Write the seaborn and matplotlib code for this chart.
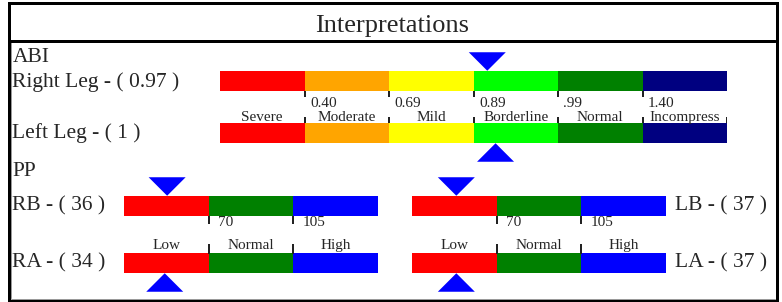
import matplotlib
matplotlib.use("Agg")
import matplotlib.pyplot as plt
import matplotlib.transforms as mtransforms
from matplotlib.path import Path
from matplotlib.patches import Rectangle
import seaborn as sns
import pandas as pd

# ---------------- data ----------------
title = "Interpretations"

abi_section = "ABI"
abi_categories = ["Severe", "Moderate", "Mild", "Borderline", "Normal", "Incompress"]
abi_colors = ["#FF0000", "#FFA500", "#FFFF00", "#00FF00", "#008000", "#000080"]
abi_tick_labels = ["0.40", "0.69", "0.89", ".99", "1.40"]
abi_legs = ["Right Leg", "Left Leg"]
abi_values = [0.97, 1]
abi_value_text = ["0.97", "1"]
abi_scale_max = 1.84

pp_section = "PP"
pp_categories = ["Low", "Normal", "High"]
pp_colors = ["#FF0000", "#008000", "#0000FF"]
pp_tick_labels = ["70", "105"]
pp_right_sites = ["RB", "RA"]
pp_right_values = [36, 34]
pp_left_sites = ["LB", "LA"]
pp_left_values = [37, 37]
pp_scale_max = 212

marker_color = "#0000FF"

# ---------------- style ----------------
sns.set_style("white")
plt.rcParams["font.family"] = ["Liberation Serif", "DejaVu Serif"]

W, H = 782, 302
fig = plt.figure(figsize=(W / 100, H / 100), dpi=100)
fig.patch.set_facecolor("white")

PX = 72 / 100  # points per pixel

# background axes in pixel coordinates (for frame and labels)
bg = fig.add_axes([0, 0, 1, 1])
bg.set_xlim(0, W)
bg.set_ylim(H, 0)
bg.axis("off")

# frame
bg.add_patch(Rectangle((8.7, 3.3), 776.5 - 8.7, 300.5 - 3.3, fill=False,
                       edgecolor="black", lw=3 * PX, zorder=5))
bg.plot([10, 775], [41, 41], color="black", lw=3 * PX, zorder=5)
bg.plot([10.5, 10.5], [42, 298], color="#999999", lw=1 * PX, zorder=4)
bg.plot([10.5, 775], [298.5, 298.5], color="#999999", lw=1 * PX, zorder=4)

bg.text(392, 32, title, fontsize=19, ha="center", va="baseline")

LABEL_FS = 15.5
bg.text(12.5, 62.5, abi_section, fontsize=LABEL_FS, va="baseline")
bg.text(12.5, 176, pp_section, fontsize=LABEL_FS, va="baseline")

# triangle markers (2:1 width:height)
down_tri = Path([(-1, 0.5), (1, 0.5), (0, -0.5), (-1, 0.5)],
                [Path.MOVETO, Path.LINETO, Path.LINETO, Path.CLOSEPOLY])
up_tri = Path([(-1, -0.5), (1, -0.5), (0, 0.5), (-1, -0.5)],
              [Path.MOVETO, Path.LINETO, Path.LINETO, Path.CLOSEPOLY])
MARKER_S = (37 * PX) ** 2


def gauge_axes(x0, x1, scale_max):
    ax = fig.add_axes([x0 / W, 0, (x1 - x0) / W, 1])
    ax.set_xlim(0, scale_max)
    ax.set_ylim(H, 0)
    ax.axis("off")
    ax.patch.set_alpha(0)
    return ax


def draw_bar(ax, scale_max, colors, y_top, height):
    n = len(colors)
    seg = scale_max / n
    df = pd.DataFrame({"left": [i * seg for i in range(n)],
                       "width": [seg] * n,
                       "color": colors})
    ax.barh(y=[y_top + height / 2] * n, width=df["width"], left=df["left"],
            height=height, color=df["color"], edgecolor="none", linewidth=0)
    return seg


def draw_marker(ax, value, y_center, path):
    dfm = pd.DataFrame({"value": [value], "y": [y_center]})
    sns.scatterplot(data=dfm, x="value", y="y", marker=path, s=MARKER_S,
                    color=marker_color, edgecolor="none", linewidth=0,
                    legend=False, ax=ax, zorder=6)
    ax.set_xlabel("")
    ax.set_ylabel("")


# ---------------- ABI gauge ----------------
ax_abi = gauge_axes(220, 727, abi_scale_max)
seg = draw_bar(ax_abi, abi_scale_max, abi_colors, 71, 20)
draw_bar(ax_abi, abi_scale_max, abi_colors, 123, 20)
bounds = [seg * (i + 1) for i in range(len(abi_categories))]
ax_abi.vlines(bounds[:-1], 91, 97, colors="#222222", lw=2 * PX)
ax_abi.vlines(bounds, 117, 123, colors="#222222", lw=2 * PX)
off = mtransforms.offset_copy(ax_abi.transData, fig=fig, x=5.5, y=0, units="dots")
for b, lab in zip(bounds[:-1], abi_tick_labels):
    ax_abi.text(b, 106.8, lab, fontsize=11, ha="left", va="baseline", transform=off)
for i, cat in enumerate(abi_categories):
    ax_abi.text(seg * (i + 0.5), 120.8, cat, fontsize=11, ha="center", va="baseline")
draw_marker(ax_abi, abi_values[0], 61.5, down_tri)
draw_marker(ax_abi, abi_values[1], 152.5, up_tri)
ax_abi.set_xlim(0, abi_scale_max)
ax_abi.set_ylim(H, 0)
ax_abi.axis("off")

bg.text(12.5, 87, f"{abi_legs[0]} - ( {abi_value_text[0]} )", fontsize=LABEL_FS, va="baseline")
bg.text(12.5, 138, f"{abi_legs[1]} - ( {abi_value_text[1]} )", fontsize=LABEL_FS, va="baseline")


# ---------------- PP gauges ----------------
def pp_gauge(x0, x1, values):
    ax = gauge_axes(x0, x1, pp_scale_max)
    s = draw_bar(ax, pp_scale_max, pp_colors, 196, 20)
    draw_bar(ax, pp_scale_max, pp_colors, 253, 20)
    bnds = [s * (i + 1) for i in range(len(pp_categories) - 1)]
    ax.vlines(bnds, 216, 224, colors="#222222", lw=2 * PX)
    ax.vlines(bnds, 244, 254, colors="#222222", lw=2 * PX)
    o = mtransforms.offset_copy(ax.transData, fig=fig, x=9, y=0, units="dots")
    for b, lab in zip(bnds, pp_tick_labels):
        ax.text(b, 226.5, lab, fontsize=11, ha="left", va="baseline", transform=o)
    for i, cat in enumerate(pp_categories):
        ax.text(s * (i + 0.5), 249, cat, fontsize=11, ha="center", va="baseline")
    draw_marker(ax, values[0], 186.5, down_tri)
    draw_marker(ax, values[1], 282.5, up_tri)
    ax.set_xlim(0, pp_scale_max)
    ax.set_ylim(H, 0)
    ax.axis("off")


pp_gauge(124, 378, pp_right_values)
pp_gauge(412, 666, pp_left_values)

bg.text(12.5, 210, f"{pp_right_sites[0]} - ( {pp_right_values[0]} )", fontsize=LABEL_FS, va="baseline")
bg.text(12.5, 267, f"{pp_right_sites[1]} - ( {pp_right_values[1]} )", fontsize=LABEL_FS, va="baseline")
bg.text(675, 210, f"{pp_left_sites[0]} - ( {pp_left_values[0]} )", fontsize=LABEL_FS, va="baseline")
bg.text(675, 267, f"{pp_left_sites[1]} - ( {pp_left_values[1]} )", fontsize=LABEL_FS, va="baseline")

fig.savefig("out.png", dpi=100, facecolor="white")
